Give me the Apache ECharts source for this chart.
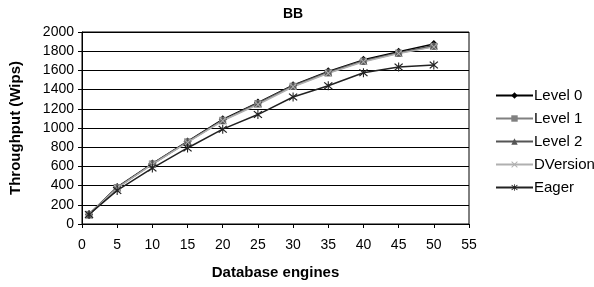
<!DOCTYPE html>
<html>
<head>
<meta charset="utf-8">
<script src="https://cdn.jsdelivr.net/npm/echarts@6/dist/echarts.min.js"></script>
<style>
  html, body { margin: 0; padding: 0; background: #fff; }
  #chart { width: 594px; height: 287px; }
</style>
</head>
<body>
<div id="chart"></div>
<script>
const engines = [1, 5, 10, 15, 20, 25, 30, 35, 40, 45, 50];
const level0 = [100, 385, 630, 860, 1090, 1265, 1445, 1590, 1710, 1795, 1875];
const level1 = [100, 380, 625, 855, 1080, 1255, 1435, 1575, 1695, 1780, 1850];
const level2 = [100, 380, 625, 855, 1080, 1255, 1440, 1580, 1700, 1785, 1860];
const dversion = [100, 375, 620, 850, 1075, 1245, 1430, 1570, 1690, 1775, 1845];
const eager = [100, 350, 583, 792, 988, 1140, 1323, 1440, 1575, 1635, 1655];

const xMark = 'path://M0 1L1 0L5 4L9 0L10 1L6 5L10 9L9 10L5 6L1 10L0 9L4 5Z';
const star = 'path://M0 1L1 0L5 4L9 0L10 1L6 5L10 9L9 10L5 6L1 10L0 9L4 5Z M4.4 -1H5.6V11H4.4Z';

const chart = echarts.init(document.getElementById('chart'));

const mk = (name, data, color, symbol, size) => ({
  name: name,
  type: 'line',
  data: engines.map((x, i) => [x, data[i]]),
  symbol: symbol,
  symbolSize: size,
  lineStyle: { color: color, width: 1.5 },
  itemStyle: { color: color },
  emphasis: { disabled: true }
});

chart.setOption({
  animation: false,
  textStyle: { fontFamily: 'Liberation Sans, Arial, sans-serif' },
  title: {
    text: 'BB', left: 278, top: 2,
    textStyle: { fontSize: 14, fontWeight: 'bold', color: '#000' }
  },
  legend: {
    orient: 'vertical', left: 490, top: 83,
    itemWidth: 37, itemHeight: 8, itemGap: 8, itemStyle: {},
    textStyle: { fontSize: 15, color: '#000', padding: [0, 0, 0, -4] },
    data: ['Level 0', 'Level 1', 'Level 2', 'DVersion', 'Eager']
  },
  grid: {
    left: 81, right: 125, top: 32, bottom: 63,
    show: true, borderColor: '#000', borderWidth: 1
  },
  xAxis: {
    type: 'value', min: 0, max: 55, interval: 5,
    name: 'Database engines', nameLocation: 'middle', nameGap: 41,
    nameTextStyle: { fontSize: 15, fontWeight: 'bold', color: '#000' },
    axisLine: { show: true, lineStyle: { color: '#000' } },
    axisTick: { show: true, length: 4, lineStyle: { color: '#000' } },
    axisLabel: { fontSize: 14, color: '#000', margin: 14 },
    splitLine: { show: false }
  },
  yAxis: {
    type: 'value', min: 0, max: 2000, interval: 200,
    name: 'Throughput (Wips)', nameLocation: 'middle', nameGap: 59,
    nameTextStyle: { fontSize: 15, fontWeight: 'bold', color: '#000' },
    axisLine: { show: true, lineStyle: { color: '#000' } },
    axisTick: { show: true, length: 4, lineStyle: { color: '#000' } },
    axisLabel: { fontSize: 14, color: '#000', margin: 8, formatter: v => String(v) },
    splitLine: { show: true, lineStyle: { color: '#000', width: 1 } }
  },
  series: [
    mk('Level 0', level0, '#000', 'diamond', 8),
    mk('Level 1', level1, '#808080', 'rect', 7),
    mk('Level 2', level2, '#555', 'triangle', 8),
    mk('DVersion', dversion, '#b0b0b0', xMark, 7),
    mk('Eager', eager, '#222', star, 9)
  ]
});
</script>
</body>
</html>
